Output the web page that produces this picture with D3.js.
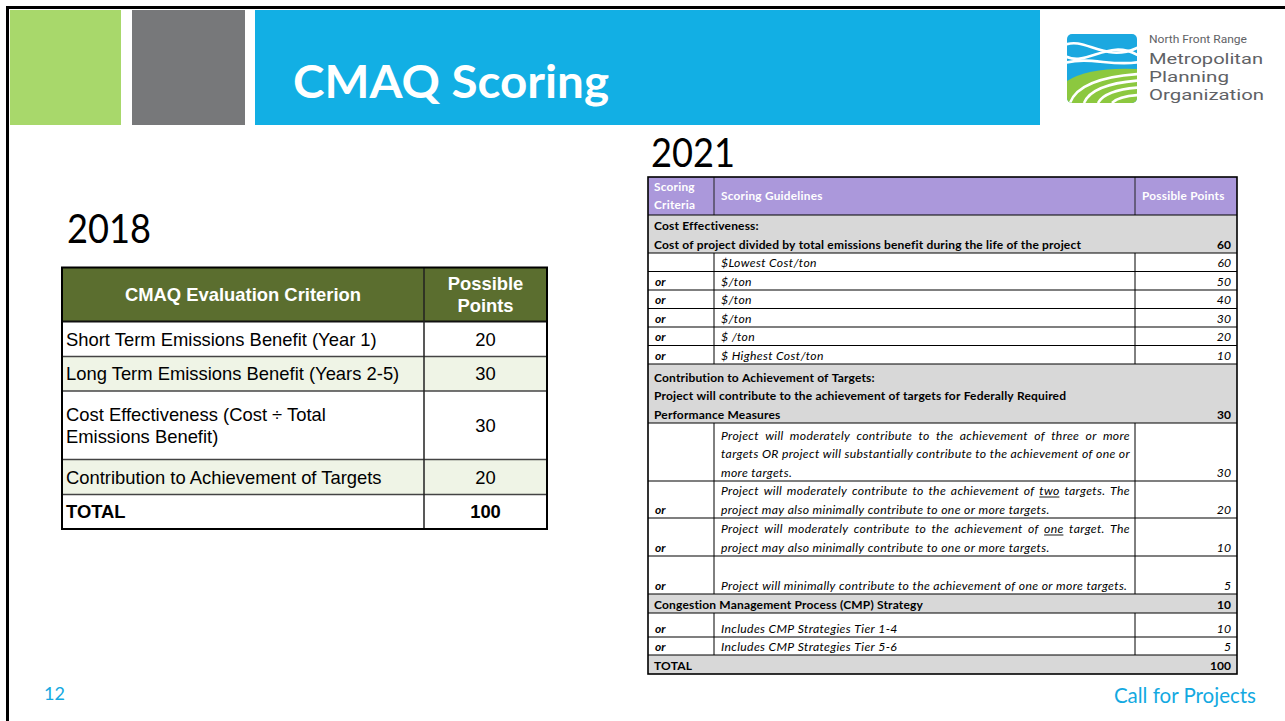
<!DOCTYPE html>
<html><head><meta charset="utf-8">
<script src="https://cdn.jsdelivr.net/npm/d3@7"></script>
<style>html,body{margin:0;padding:0;background:#fff;overflow:hidden}</style>
</head><body>
<svg id="s" width="1285" height="721" xmlns="http://www.w3.org/2000/svg"></svg>
<script>
// ---------------- DATA ----------------
const slideTitle = "CMAQ Scoring";
const year2018 = "2018";
const year2021 = "2021";
const pageNumber = "12";
const footerText = "Call for Projects";
const logoLines = ["North Front Range", "Metropolitan", "Planning", "Organization"];

const header2018 = [["CMAQ Evaluation Criterion"], ["Possible", "Points"]];
const criteria2018 = [
  ["Short Term Emissions Benefit (Year 1)"],
  ["Long Term Emissions Benefit (Years 2-5)"],
  ["Cost Effectiveness (Cost \u00f7 Total", "Emissions Benefit)"],
  ["Contribution to Achievement of Targets"],
  ["TOTAL"]
];
const points2018 = [20, 30, 30, 20, 100];

const header2021 = [["Scoring", "Criteria"], ["Scoring Guidelines"], ["Possible Points"]];
const rowKinds2021 = ["section", "option", "option", "option", "option", "option", "option",
  "section", "option", "option", "option", "option", "section", "option", "option", "section"];
const rowPrefix2021 = ["", "", "or", "or", "or", "or", "or", "", "", "or", "or", "or", "", "or", "or", ""];
const rowLines2021 = [
  ["Cost Effectiveness:", "Cost of project divided by total emissions benefit during the life of the project"],
  ["$Lowest Cost/ton"],
  ["$/ton"],
  ["$/ton"],
  ["$/ton"],
  ["$ /ton"],
  ["$ Highest Cost/ton"],
  ["Contribution to Achievement of Targets:", "Project will contribute to the achievement of targets for Federally Required", "Performance Measures"],
  ["Project will moderately contribute to the achievement of three or more",
   "targets OR project will substantially contribute to the achievement of one or",
   "more targets."],
  ["Project will moderately contribute to the achievement of _two_ targets. The",
   "project may also minimally contribute to one or more targets."],
  ["Project will moderately contribute to the achievement of _one_ target. The",
   "project may also minimally contribute to one or more targets."],
  ["Project will minimally contribute to the achievement of one or more targets."],
  ["Congestion Management Process (CMP) Strategy"],
  ["Includes CMP Strategies Tier 1-4"],
  ["Includes CMP Strategies Tier 5-6"],
  ["TOTAL"]
];
const points2021 = [60, 60, 50, 40, 30, 20, 10, 30, 30, 20, 10, 5, 10, 10, 5, 100];

// ---------------- LAYOUT / STYLE ----------------
const svg = d3.select("#s");
const C = {
  green: "#a8d86b", gray: "#77787a", blue: "#12afe4",
  olive: "#5b6e2f", lightRow: "#eff4e6", purple: "#ab98db", sect: "#d8d8d8",
  logoText: "#5f6266", footer: "#13a9e1"
};

// slide border
svg.append("path").attr("d", "M7.5,721 L7.5,7.5 L1285,7.5")
  .attr("fill", "none").attr("stroke", "#000").attr("stroke-width", 3);

// title bar blocks
const blocks = [[10, 121, C.green], [132, 245, C.gray], [255, 1040, C.blue]];
svg.selectAll("rect.blk").data(blocks).join("rect").attr("class", "blk")
  .attr("x", d => d[0]).attr("y", 10).attr("width", d => d[1] - d[0]).attr("height", 115)
  .attr("fill", d => d[2]);

svg.append("text").text(slideTitle).attr("x", 293).attr("y", 98)
  .attr("font-family", "Lato, 'Open Sans', sans-serif").attr("font-weight", 700)
  .attr("font-size", 46).attr("fill", "#fff")
  .attr("textLength", 316).attr("lengthAdjust", "spacingAndGlyphs");

// ---------- logo ----------
const lg = svg.append("g").attr("transform", "translate(1067,34)");
const defs = svg.append("defs");
defs.append("clipPath").attr("id", "logoclip").append("rect")
  .attr("width", 70).attr("height", 69).attr("rx", 5);
const lgc = lg.append("g").attr("clip-path", "url(#logoclip)");
lgc.append("rect").attr("width", 70).attr("height", 69).attr("fill", "#1ba8e0");
lgc.append("path").attr("d", "M0,47 Q22,33 70,35 L70,69 L0,69 Z").attr("fill", "#8cc83f");
const greenStripes = ["M3,69 Q12,44 72,40", "M17,69 Q25,50 72,46.5", "M31,69 Q38,56 72,53.5", "M45,69 Q52,62 72,61"];
lgc.selectAll("path.gs").data(greenStripes).join("path").attr("class", "gs")
  .attr("d", d => d).attr("fill", "none").attr("stroke", "#fff").attr("stroke-width", 2.6);
const waves = ["M-2,11 C18,2 38,30 72,13", "M-2,22 C20,34 42,3 72,22", "M-2,29 C22,22 46,33 72,28"];
lgc.selectAll("path.wv").data(waves).join("path").attr("class", "wv")
  .attr("d", d => d).attr("fill", "none").attr("stroke", "#fff").attr("stroke-width", 2.6);

const logoLayout = [[43, 10.5, 98], [64, 15.5, 114], [82, 15.5, 80], [100, 15.5, 115]];
logoLines.forEach((t, i) => {
  const [y, fs, w] = logoLayout[i];
  svg.append("text").text(t).attr("x", 1149).attr("y", y)
    .attr("font-family", "Roboto, 'Noto Sans', sans-serif").attr("font-size", fs)
    .attr("fill", C.logoText)
    .attr("textLength", w).attr("lengthAdjust", "spacingAndGlyphs");
});

// year labels
svg.append("text").text(year2018).attr("x", 67).attr("y", 243)
  .attr("font-family", "Lato, sans-serif").attr("font-size", 40).attr("fill", "#000")
  .attr("textLength", 84).attr("lengthAdjust", "spacingAndGlyphs");
svg.append("text").text(year2021).attr("x", 651).attr("y", 167)
  .attr("font-family", "Lato, sans-serif").attr("font-size", 40).attr("fill", "#000")
  .attr("textLength", 84).attr("lengthAdjust", "spacingAndGlyphs");

// footer
svg.append("text").text(pageNumber).attr("x", 44).attr("y", 700)
  .attr("font-family", "Lato, sans-serif").attr("font-size", 18).attr("fill", C.footer);
svg.append("text").text(footerText).attr("x", 1256).attr("y", 703).attr("text-anchor", "end")
  .attr("font-family", "Lato, sans-serif").attr("font-size", 20.5).attr("fill", C.footer);

// ---------- 2018 table ----------
const T1 = { x0: 62, x1: 424, x2: 547, top: 267.5, heights: [54, 35, 34.5, 68.5, 35, 34.5] };
const t1Bounds = [T1.top, ...Array.from(d3.cumsum(T1.heights), v => v + T1.top)];
const y1 = d3.scaleOrdinal().domain(d3.range(T1.heights.length)).range(t1Bounds.slice(0, -1));
const g1 = svg.append("g");
const fs1 = 18.4, font1 = "'Liberation Sans', Arial, sans-serif";
const rowFill1 = [C.olive, "#fff", C.lightRow, "#fff", C.lightRow, "#fff"];
g1.selectAll("rect.row").data(T1.heights).join("rect").attr("class", "row")
  .attr("x", T1.x0).attr("width", T1.x2 - T1.x0)
  .attr("y", (d, i) => y1(i)).attr("height", d => d)
  .attr("fill", (d, i) => rowFill1[i]);
g1.selectAll("line.h").data(t1Bounds.slice(1, -1)).join("line").attr("class", "h")
  .attr("x1", T1.x0).attr("x2", T1.x2).attr("y1", d => d).attr("y2", d => d)
  .attr("stroke", (d, i) => i === 0 ? "#111" : "#444").attr("stroke-width", (d, i) => i === 0 ? 2 : 1.3);
g1.append("line").attr("x1", T1.x1).attr("x2", T1.x1).attr("y1", T1.top).attr("y2", t1Bounds[t1Bounds.length - 1])
  .attr("stroke", "#222").attr("stroke-width", 1.5);
g1.append("rect").attr("x", T1.x0).attr("y", T1.top).attr("width", T1.x2 - T1.x0)
  .attr("height", t1Bounds[t1Bounds.length - 1] - T1.top).attr("fill", "none")
  .attr("stroke", "#000").attr("stroke-width", 2);

function multiLine(g, lines, x, cy, anchor, weight, color, fs, lh, fam) {
  const n = lines.length;
  lines.forEach((t, i) => {
    g.append("text").text(t).attr("x", x)
      .attr("y", cy + (i - (n - 1) / 2) * lh + fs * 0.36)
      .attr("text-anchor", anchor).attr("font-weight", weight).attr("fill", color)
      .attr("font-size", fs).attr("font-family", fam);
  });
}
multiLine(g1, header2018[0], (T1.x0 + T1.x1) / 2, y1(0) + T1.heights[0] / 2, "middle", 700, "#fff", fs1, 21.6, font1);
multiLine(g1, header2018[1], (T1.x1 + T1.x2) / 2, y1(0) + T1.heights[0] / 2, "middle", 700, "#fff", fs1, 21.6, font1);
criteria2018.forEach((lines, i) => {
  const cy = y1(i + 1) + T1.heights[i + 1] / 2;
  const bold = i === criteria2018.length - 1 ? 700 : 400;
  multiLine(g1, lines, 66, cy, "start", bold, "#000", fs1, 21.8, font1);
  multiLine(g1, [String(points2018[i])], (T1.x1 + T1.x2) / 2, cy, "middle", bold, "#000", fs1, 21.8, font1);
});

// ---------- 2021 table ----------
const T2 = { x0: 648, xa: 714, xb: 1135, x1: 1237, top: 177,
  headH: 38, heights: [38, 18.5, 18.5, 18.5, 18.5, 18.5, 18.5, 59, 58, 37, 38, 38, 19, 24, 18, 19] };
const bodyTop = T2.top + T2.headH;
const t2Bounds = [bodyTop, ...Array.from(d3.cumsum(T2.heights), v => v + bodyTop)];
const t2Bottom = t2Bounds[t2Bounds.length - 1];
const font2 = "Lato, 'Open Sans', sans-serif", lh2 = 18.5;
// per-style font settings: [size, letter-spacing]
const st2 = { bold: [12, 0.17], italic: [12.2, 0.35], head: [11.8, 0.25] };
const g2 = svg.append("g");

const meas = svg.append("text").attr("font-family", font2).attr("x", -999).attr("y", -999);
function measure(str, weight, style, fs, ls) {
  meas.attr("font-weight", weight).attr("font-style", style).attr("font-size", fs)
    .attr("letter-spacing", ls).text(str);
  return meas.node().getComputedTextLength();
}
function drawWords(g, str, x, y, width, justify, weight, style, color) {
  const [fs, ls] = style === "italic" ? st2.italic : st2.bold;
  const words = str.split(" ");
  const clean = words.map(w => w.replace(/_/g, ""));
  const widths = clean.map(w => measure(w, weight, style, fs, ls));
  const sp = measure("x x", weight, style, fs, ls) - measure("xx", weight, style, fs, ls);
  const total = d3.sum(widths);
  const gap = (justify && words.length > 1) ? (width - total) / (words.length - 1) : sp;
  const t = g.append("text").attr("y", y).attr("font-family", font2).attr("font-size", fs)
    .attr("letter-spacing", ls)
    .attr("font-weight", weight).attr("font-style", style).attr("fill", color);
  let cx = x;
  words.forEach((w, i) => {
    t.append("tspan").attr("x", cx).text(clean[i]);
    if (w.startsWith("_")) {
      g.append("line").attr("x1", cx).attr("x2", cx + widths[i] - ls).attr("y1", y + 2).attr("y2", y + 2)
        .attr("stroke", color).attr("stroke-width", 0.9);
    }
    cx += widths[i] + gap;
  });
}

// header
g2.append("rect").attr("x", T2.x0).attr("y", T2.top).attr("width", T2.x1 - T2.x0).attr("height", T2.headH)
  .attr("fill", C.purple);
const headX = [654, 721, 1142];
header2021.forEach((lines, i) => {
  const n = lines.length;
  lines.forEach((t, j) => {
    g2.append("text").text(t).attr("x", headX[i])
      .attr("y", T2.top + T2.headH / 2 + (j - (n - 1) / 2) * 17.5 + 4)
      .attr("font-family", font2).attr("font-size", st2.head[0]).attr("letter-spacing", st2.head[1])
      .attr("font-weight", 700).attr("fill", "#fff");
  });
});

// body rows
g2.selectAll("rect.r2").data(rowKinds2021).join("rect").attr("class", "r2")
  .attr("x", T2.x0).attr("width", T2.x1 - T2.x0)
  .attr("y", (d, i) => t2Bounds[i]).attr("height", (d, i) => T2.heights[i])
  .attr("fill", d => d === "section" ? C.sect : "#fff");

rowKinds2021.forEach((kind, i) => {
  const bottom = t2Bounds[i + 1];
  const lines = rowLines2021[i];
  const n = lines.length;
  const baseY = j => bottom - 4.5 - (n - 1 - j) * lh2;
  if (kind === "section") {
    lines.forEach((t, j) => drawWords(g2, t, 654, baseY(j), 0, false, 700, "normal", "#000"));
    g2.append("text").text(points2021[i]).attr("x", 1231).attr("y", baseY(n - 1)).attr("text-anchor", "end")
      .attr("font-family", font2).attr("font-size", st2.bold[0]).attr("font-weight", 700);
  } else {
    lines.forEach((t, j) => drawWords(g2, t, 721, baseY(j), 409, n > 1 && j < n - 1, 400, "italic", "#000"));
    if (rowPrefix2021[i]) {
      g2.append("text").text(rowPrefix2021[i]).attr("x", 655).attr("y", baseY(n - 1))
        .attr("font-family", font2).attr("font-size", st2.bold[0]).attr("font-weight", 700).attr("font-style", "italic");
    }
    g2.append("text").text(points2021[i]).attr("x", 1231).attr("y", baseY(n - 1)).attr("text-anchor", "end")
      .attr("font-family", font2).attr("font-size", st2.italic[0]).attr("font-style", "italic");
    [T2.xa, T2.xb].forEach(x => g2.append("line").attr("x1", x).attr("x2", x)
      .attr("y1", t2Bounds[i]).attr("y2", bottom).attr("stroke", "#000").attr("stroke-width", 1));
  }
});
[T2.xa, T2.xb].forEach(x => g2.append("line").attr("x1", x).attr("x2", x)
  .attr("y1", T2.top).attr("y2", bodyTop).attr("stroke", "#222").attr("stroke-width", 1));
g2.selectAll("line.h2").data(t2Bounds.slice(0, -1)).join("line").attr("class", "h2")
  .attr("x1", T2.x0).attr("x2", T2.x1).attr("y1", d => d).attr("y2", d => d)
  .attr("stroke", "#000").attr("stroke-width", 1.2);
g2.append("rect").attr("x", T2.x0).attr("y", T2.top).attr("width", T2.x1 - T2.x0)
  .attr("height", t2Bottom - T2.top).attr("fill", "none").attr("stroke", "#000").attr("stroke-width", 1.6);
meas.remove();
</script>
</body></html>
